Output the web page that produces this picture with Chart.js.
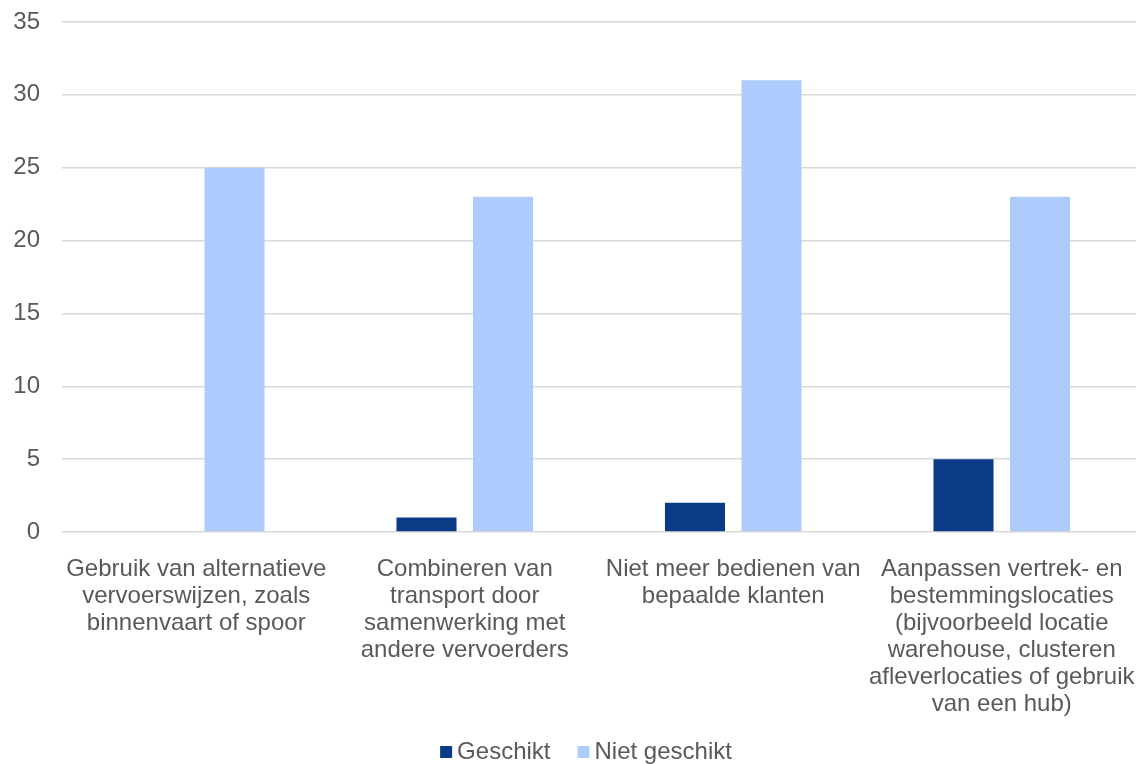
<!DOCTYPE html>
<html>
<head>
<meta charset="utf-8">
<script src="https://cdn.jsdelivr.net/npm/chart.js@4/dist/chart.umd.min.js"></script>
<style>
  html, body { margin: 0; padding: 0; background: #fff; }
  #wrap { width: 1138px; height: 764px; }
</style>
</head>
<body>
<div id="wrap"><canvas id="barChart"></canvas></div>
<script>
"use strict";

const categories = [
  ["Gebruik van alternatieve", "vervoerswijzen, zoals", "binnenvaart of spoor"],
  ["Combineren van", "transport door", "samenwerking met", "andere vervoerders"],
  ["Niet meer bedienen van", "bepaalde klanten"],
  ["Aanpassen vertrek- en", "bestemmingslocaties", "(bijvoorbeeld locatie", "warehouse, clusteren", "afleverlocaties of gebruik", "van een hub)"],
];
const geschikt = [0, 1, 2, 5];
const nietGeschikt = [25, 23, 31, 23];
const yTicks = [0, 5, 10, 15, 20, 25, 30, 35];

const fontFamily = "'Liberation Sans', Arial, sans-serif";
const textColor = "#595959";
const gridColor = "#d9d9d9";

// legend drawn by hand: small square close to its label
const bottomLegend = {
  id: "bottomLegend",
  afterDraw(chart) {
    const ctx = chart.ctx;
    const box = 12;
    const gap = 5;
    const itemGap = 27;
    ctx.save();
    ctx.font = "24px " + fontFamily;
    const items = chart.data.datasets.map((ds) => ({
      label: ds.label,
      color: ds.backgroundColor,
      width: box + gap + ctx.measureText(ds.label).width,
    }));
    const total = items.reduce((s, it) => s + it.width, 0) + itemGap * (items.length - 1);
    let x = 586 - total / 2;
    const baseline = 759;
    items.forEach((it) => {
      ctx.fillStyle = it.color;
      ctx.fillRect(x, baseline - 13, box, box);
      ctx.fillStyle = textColor;
      ctx.textBaseline = "alphabetic";
      ctx.textAlign = "left";
      ctx.fillText(it.label, x + box + gap, baseline);
      x += it.width + itemGap;
    });
    ctx.restore();
  },
};

document.addEventListener("DOMContentLoaded", () => {
  const ctx = document.querySelector("#barChart");
  new Chart(ctx, {
    type: "bar",
    data: {
      labels: categories,
      datasets: [
        {
          label: "Geschikt",
          data: geschikt,
          backgroundColor: "#0b3a87",
          categoryPercentage: 0.57,
          barPercentage: 0.785,
        },
        {
          label: "Niet geschikt",
          data: nietGeschikt,
          backgroundColor: "#adcbfc",
          categoryPercentage: 0.57,
          barPercentage: 0.785,
        },
      ],
    },
    plugins: [bottomLegend],
    options: {
      responsive: true,
      maintainAspectRatio: false,
      animation: false,
      layout: { padding: { top: 22, right: 2, left: 0, bottom: 0 } },
      plugins: {
        legend: { display: false },
        tooltip: { enabled: false },
      },
      scales: {
        x: {
          grid: { display: false },
          border: { display: false },
          ticks: {
            color: textColor,
            font: { family: fontFamily, size: 24, lineHeight: 1.125 },
            maxRotation: 0,
            autoSkip: false,
            padding: 16,
          },
          afterFit: (scale) => {
            scale.height = 232;
            scale.paddingLeft = 0;
            scale.paddingRight = 0;
          },
        },
        y: {
          min: 0,
          max: 35,
          afterBuildTicks: (scale) => { scale.ticks = yTicks.map((v) => ({ value: v })); },
          grid: { color: gridColor, lineWidth: 1.5, drawTicks: false },
          border: { display: false },
          ticks: {
            color: textColor,
            font: { family: fontFamily, size: 24 },
            padding: 22,
          },
          afterFit: (scale) => {
            scale.width = 62;
            scale.paddingTop = 0;
            scale.paddingBottom = 0;
          },
        },
      },
    },
  });
});
</script>
</body>
</html>
